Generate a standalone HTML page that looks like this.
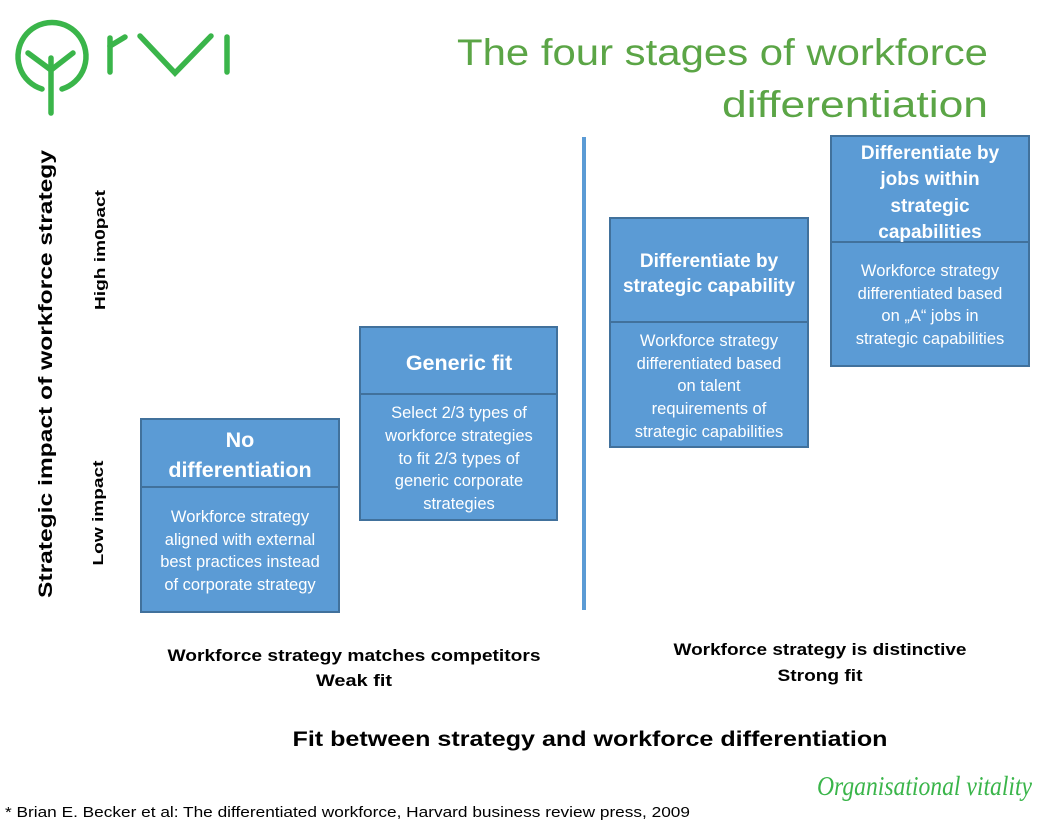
<!DOCTYPE html>
<html><head><meta charset="utf-8"><style>
html,body{margin:0;padding:0;background:#fff;}
svg{display:block;}
.h{font-family:"Liberation Sans",sans-serif;font-weight:bold;fill:#fff;font-size:19px;text-anchor:middle;}
.h2{font-family:"Liberation Sans",sans-serif;font-weight:bold;fill:#fff;font-size:21.5px;text-anchor:middle;}
.b{font-family:"Liberation Sans",sans-serif;fill:#fff;font-size:16.5px;text-anchor:middle;}
.k{font-family:"Liberation Sans",sans-serif;font-weight:bold;fill:#000;}
</style></head><body>
<svg width="1056" height="828" viewBox="0 0 1056 828" xmlns="http://www.w3.org/2000/svg">
<g stroke="#3AB54A" stroke-width="5.5" fill="none" stroke-linecap="round">
<path d="M42 89 A34 34 0 1 1 62 89"/>
<line x1="51" y1="58" x2="51" y2="113"/>
<polyline points="28,53 51,70 73,53"/>
<line x1="110" y1="38" x2="110" y2="72"/>
<line x1="110" y1="46" x2="125" y2="37"/>
<polyline points="140,36 175,73 211,36"/>
<line x1="227" y1="37" x2="227" y2="72"/>
</g>
<g font-family="Liberation Sans,sans-serif" font-size="37" fill="#5BA546" text-anchor="end">
<text x="988" y="65" textLength="531" lengthAdjust="spacingAndGlyphs">The four stages of workforce</text>
<text x="988" y="117" textLength="266" lengthAdjust="spacingAndGlyphs">differentiation</text>
</g>
<line x1="584" y1="137" x2="584" y2="610" stroke="#5B9BD5" stroke-width="4"/>
<g fill="#5B9BD5" stroke="#41719C" stroke-width="2">
<rect x="141" y="419" width="198" height="193"/><line x1="141" y1="487" x2="339" y2="487"/>
<rect x="360" y="327" width="197" height="193"/><line x1="360" y1="394" x2="557" y2="394"/>
<rect x="610" y="218" width="198" height="229"/><line x1="610" y1="322" x2="808" y2="322"/>
<rect x="831" y="136" width="198" height="230"/><line x1="831" y1="242" x2="1029" y2="242"/>
</g>
<text class="h2" x="240" y="447">No</text>
<text class="h2" x="240" y="477">differentiation</text>
<text class="b" x="240" y="522">Workforce strategy</text>
<text class="b" x="240" y="545">aligned with external</text>
<text class="b" x="240" y="567">best practices instead</text>
<text class="b" x="240" y="590">of corporate strategy</text>

<text class="h2" x="459" y="370">Generic fit</text>
<text class="b" x="459" y="418">Select 2/3 types of</text>
<text class="b" x="459" y="441">workforce strategies</text>
<text class="b" x="459" y="464">to fit 2/3 types of</text>
<text class="b" x="459" y="486">generic corporate</text>
<text class="b" x="459" y="509">strategies</text>

<text class="h" x="709" y="267">Differentiate by</text>
<text class="h" x="709" y="292">strategic capability</text>
<text class="b" x="709" y="346">Workforce strategy</text>
<text class="b" x="709" y="369">differentiated based</text>
<text class="b" x="709" y="391">on talent</text>
<text class="b" x="709" y="414">requirements of</text>
<text class="b" x="709" y="437">strategic capabilities</text>

<text class="h" x="930" y="159">Differentiate by</text>
<text class="h" x="930" y="185">jobs within</text>
<text class="h" x="930" y="212">strategic</text>
<text class="h" x="930" y="238">capabilities</text>
<text class="b" x="930" y="276">Workforce strategy</text>
<text class="b" x="930" y="299">differentiated based</text>
<text class="b" x="930" y="321">on „A“ jobs in</text>
<text class="b" x="930" y="344">strategic capabilities</text>

<text class="k" font-size="19" transform="translate(52,374) rotate(-90)" text-anchor="middle" textLength="448" lengthAdjust="spacingAndGlyphs">Strategic impact of workforce strategy</text>
<text class="k" font-size="15" transform="translate(105,250) rotate(-90)" text-anchor="middle" textLength="120" lengthAdjust="spacingAndGlyphs">High im0pact</text>
<text class="k" font-size="15" transform="translate(103,513) rotate(-90)" text-anchor="middle" textLength="105" lengthAdjust="spacingAndGlyphs">Low impact</text>

<text class="k" font-size="16.5" x="354" y="661" text-anchor="middle" textLength="373" lengthAdjust="spacingAndGlyphs">Workforce strategy matches competitors</text>
<text class="k" font-size="16.5" x="354" y="686" text-anchor="middle" textLength="76" lengthAdjust="spacingAndGlyphs">Weak fit</text>
<text class="k" font-size="16.5" x="820" y="655" text-anchor="middle" textLength="293" lengthAdjust="spacingAndGlyphs">Workforce strategy is distinctive</text>
<text class="k" font-size="16.5" x="820" y="681" text-anchor="middle" textLength="85" lengthAdjust="spacingAndGlyphs">Strong fit</text>
<text class="k" font-size="21" x="590" y="746" text-anchor="middle" textLength="595" lengthAdjust="spacingAndGlyphs">Fit between strategy and workforce differentiation</text>

<text font-family="Liberation Sans,sans-serif" font-size="14.5" x="5" y="817" fill="#000" textLength="685" lengthAdjust="spacingAndGlyphs">* Brian E. Becker et al: The differentiated workforce, Harvard business review press, 2009</text>
<text font-family="Liberation Serif,serif" font-style="italic" font-size="27" x="817" y="795" fill="#3AB54A" textLength="215" lengthAdjust="spacingAndGlyphs">Organisational vitality</text>
</svg>
</body></html>
